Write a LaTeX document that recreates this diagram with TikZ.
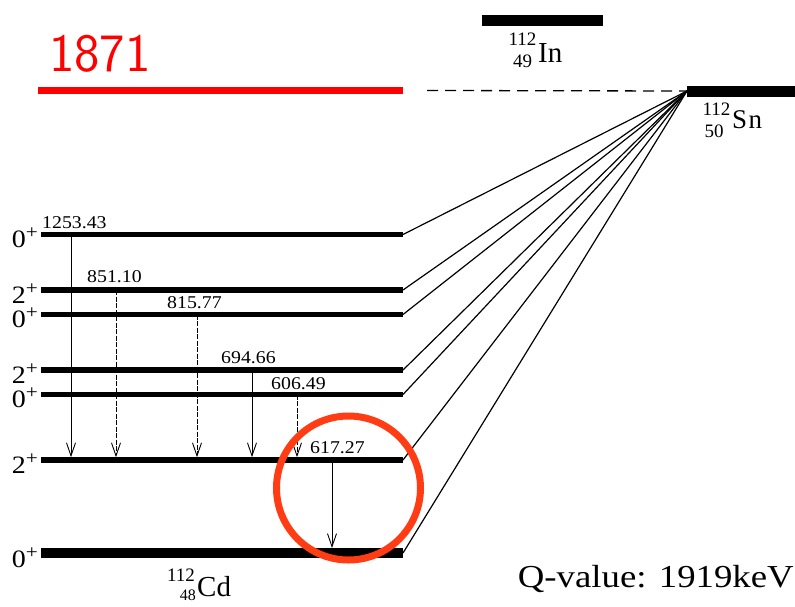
\documentclass[tikz,border=0pt]{standalone}
\usepackage{fontspec}
\setmainfont{Liberation Serif}
\usetikzlibrary{arrows.meta}
\definecolor{circ}{RGB}{255,60,20}
\begin{document}
\begin{tikzpicture}[x=1pt,y=-1pt,
  lvl/.style={line width=5.5pt},
  gnd/.style={line width=10pt},
  fan/.style={line width=1.2pt},
  gam/.style={line width=0.9pt, -{Straight Barb[length=13pt,width=9pt,line width=0.9pt]}, shorten >=2.8pt},
  gamd/.style={gam, dash pattern=on 5pt off 1.5pt},
  en/.style={inner sep=0pt, anchor=base west, xscale=1.1, font=\fontsize{18}{18}\selectfont},
  spin/.style={inner sep=0pt, anchor=base east, xscale=1.12, font=\fontsize{25}{25}\selectfont},
  elem/.style={inner sep=0pt, anchor=base west, font=\fontsize{29}{29}\selectfont},
  isonum/.style={inner sep=0pt, anchor=base, font=\fontsize{19}{19}\selectfont},
]
\useasboundingbox (0,0) rectangle (795,606);
% level coordinates
\foreach \n/\y in {1/234.5,2/290,3/314.5,4/370,5/394.5,6/460,0/553}{
  \coordinate (l\n) at (41,\y);
  \coordinate (r\n) at (403,\y);
}
\coordinate (snL) at (687,91);
\coordinate (snR) at (795,91);
\coordinate (inL) at (482,20.5);
\coordinate (inR) at (603,20.5);
\coordinate (redL) at (38,90.5);
\coordinate (redR) at (403,90.5);
\coordinate (dashL) at (427,90.5);
% fan lines
\foreach \n in {1,...,6,0}{ \draw[fan] (snL) -- (r\n); }
% dashed Q line
\draw[line width=1.3pt, dash pattern=on 11pt off 7pt] (dashL) -- (snL);
% gamma transitions
\coordinate (g1) at (71,0);
\coordinate (g2) at (116,0);
\coordinate (g3) at (197,0);
\coordinate (g4) at (252,0);
\coordinate (g5) at (297,0);
\coordinate (g6) at (332,0);
\draw[gam]  (g1 |- l1) -- (g1 |- l6);
\draw[gamd] (g2 |- l2) -- (g2 |- l6);
\draw[gamd] (g3 |- l3) -- (g3 |- l6);
\draw[gam]  (g4 |- l4) -- (g4 |- l6);
\draw[gamd] (g5 |- l5) -- (g5 |- l6);
\draw[gam, shorten >=5pt] (g6 |- l6) -- (g6 |- l0);
% bars
\foreach \n in {1,...,6}{ \draw[lvl] (l\n) -- (r\n); }
\draw[gnd] (l0) -- (r0);
\draw[line width=11pt] (snL) -- (snR);
\draw[line width=11pt] (inL) -- (inR);
\draw[red, line width=7pt] (redL) -- (redR);
% energies
\node[en] (e1) at (42,228) {1253.43};
\node[en] (e2) at (87,282) {851.10};
\node[en] (e3) at (167,308) {815.77};
\node[en] (e4) at (221,363) {694.66};
\node[en] (e5) at (271,389) {606.49};
\node[en] (e6) at (310,453) {617.27};
% spins
\newcommand\spinlab[1]{#1\raisebox{0.36em}{\fontsize{19}{19}\selectfont+}}
\node[spin] (s1) at (38,247.5) {\spinlab{0}};
\node[spin] (s2) at (38,303) {\spinlab{2}};
\node[spin] (s3) at (38,327.5) {\spinlab{0}};
\node[spin] (s4) at (38,383) {\spinlab{2}};
\node[spin] (s5) at (38,407.5) {\spinlab{0}};
\node[spin] (s6) at (38,473) {\spinlab{2}};
\node[spin] (s0) at (38,567) {\spinlab{0}};
% isotopes
\node[elem] (In) at (538,62) {In};
\node[isonum] (InA) at (522.5,45) {112};
\node[isonum] (InZ) at (522.5,67) {49};
\node[elem, font=\fontsize{27}{27}\selectfont] (Sn) at (732,128) {S\kern1.5pt n};
\node[isonum] (SnA) at (716.5,115) {112};
\node[isonum] (SnZ) at (714,137) {50};
\node[elem] (Cd) at (197,596) {Cd};
\node[isonum, anchor=base east] (CdA) at (195,581) {112};
\node[isonum, anchor=base east, font=\fontsize{16}{16}\selectfont] (CdZ) at (196,600) {48};
% Q-value
\node[inner sep=0pt, anchor=base east, xscale=1.15, font=\fontsize{32}{32}\selectfont] (q) at (794,587) {Q-value: 1919keV};
% red annotation
\node[inner sep=0pt, anchor=base west, text=red, font=\sffamily\fontsize{54}{54}\selectfont] (t1871) at (49,71) {1871};
\node[circle, draw=circ, line width=7pt, minimum size=144pt, inner sep=0pt] (hl) at (348.5,488) {};
\end{tikzpicture}
\end{document}
